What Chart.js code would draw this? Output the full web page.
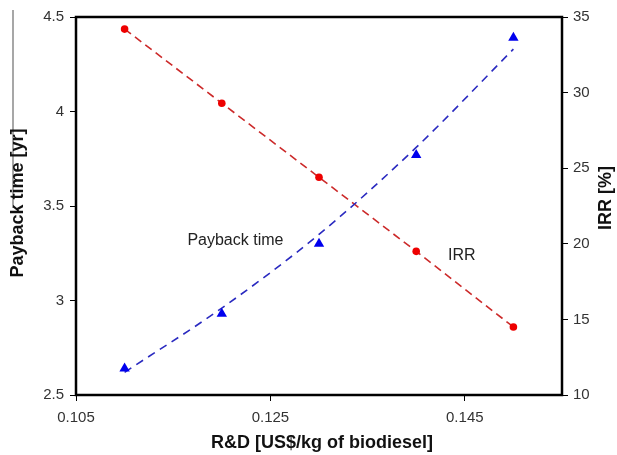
<!DOCTYPE html>
<html>
<head>
<meta charset="utf-8">
<script src="https://cdn.jsdelivr.net/npm/chart.js@4/dist/chart.umd.min.js"></script>
<style>
  html, body { margin: 0; padding: 0; background: #fff; }
  #wrap { width: 617px; height: 455px; }
</style>
</head>
<body>
<div id="wrap"><canvas id="c" width="617" height="455"></canvas></div>
<script>
// R&D cost per kg of biodiesel
const rdCost = [0.11, 0.12, 0.13, 0.14, 0.15];
// Payback time [yr] at each cost (markers) and its fitted trend
const paybackTime = [2.64, 2.93, 3.30, 3.77, 4.39];
const paybackTrend = [2.62, 2.96, 3.35, 3.81, 4.33];
// Internal rate of return [%]
const irr = [34.2, 29.3, 24.4, 19.5, 14.5];

// Axis ticks
const xTicks = [0.105, 0.125, 0.145];
const xTickLabels = ['0.105', '0.125', '0.145'];
const leftTicks = [2.5, 3, 3.5, 4, 4.5];
const leftTickLabels = ['2.5', '3', '3.5', '4', '4.5'];
const rightTicks = [10, 15, 20, 25, 30, 35];
const rightTickLabels = ['10', '15', '20', '25', '30', '35'];

// Titles and in-plot labels
const xTitle = 'R&D [US$/kg of biodiesel]';
const leftTitle = 'Payback time [yr]';
const rightTitle = 'IRR [%]';
const seriesLabels = [
  { text: 'Payback time', x: 0.1214, y: 3.315 },
  { text: 'IRR', x: 0.1447, y: 3.24 }
];

const pts = (xs, ys) => xs.map((x, i) => ({ x, y: ys[i] }));

const tickFont = { family: '"Liberation Sans", Arial, sans-serif', size: 15 };
const tickColor = '#333';

function fixedTicks(values) {
  return function (axis) { axis.ticks = values.map(v => ({ value: v })); };
}
function labelFrom(values, labels) {
  return function (v) { const i = values.indexOf(v); return i >= 0 ? labels[i] : ''; };
}

const decorations = {
  id: 'decorations',
  afterDraw(chart) {
    const { ctx, chartArea: a, scales } = chart;
    ctx.save();
    // frame around the plot
    ctx.strokeStyle = '#000';
    ctx.lineWidth = 2.5;
    ctx.strokeRect(a.left, a.top, a.right - a.left, a.bottom - a.top);

    // thin rule at the far left
    ctx.strokeStyle = '#8a8a8a';
    ctx.lineWidth = 1.5;
    ctx.beginPath();
    ctx.moveTo(13, 10);
    ctx.lineTo(13, 208);
    ctx.stroke();

    // axis titles
    ctx.fillStyle = '#111';
    ctx.font = 'bold 18px "Liberation Sans", Arial, sans-serif';
    ctx.textAlign = 'center';
    ctx.textBaseline = 'middle';
    ctx.fillText(xTitle, 322, 443);

    ctx.save();
    ctx.translate(18, 203);
    ctx.rotate(-Math.PI / 2);
    ctx.fillText(leftTitle, 0, 0);
    ctx.restore();

    ctx.save();
    ctx.translate(606, 198);
    ctx.rotate(-Math.PI / 2);
    ctx.fillText(rightTitle, 0, 0);
    ctx.restore();

    // series labels inside the plot
    ctx.fillStyle = '#222';
    ctx.font = '16px "Liberation Sans", Arial, sans-serif';
    seriesLabels.forEach(l => {
      ctx.fillText(l.text, scales.x.getPixelForValue(l.x), scales.y.getPixelForValue(l.y));
    });
    ctx.restore();
  }
};

new Chart(document.getElementById('c'), {
  type: 'scatter',
  data: {
    datasets: [
      {
        label: 'Payback time',
        data: pts(rdCost, paybackTime),
        yAxisID: 'y',
        showLine: false,
        pointStyle: 'triangle',
        pointRadius: 6,
        pointBackgroundColor: '#0000ee',
        pointBorderColor: '#0000ee',
        pointBorderWidth: 0
      },
      {
        label: 'Payback trend',
        data: pts(rdCost, paybackTrend),
        yAxisID: 'y',
        showLine: true,
        cubicInterpolationMode: 'monotone',
        borderColor: '#2a2ac0',
        borderWidth: 1.6,
        borderDash: [8, 6],
        pointRadius: 0
      },
      {
        label: 'IRR',
        data: pts(rdCost, irr),
        yAxisID: 'y2',
        showLine: true,
        borderColor: '#cc2a2a',
        borderWidth: 1.6,
        borderDash: [8, 5],
        pointStyle: 'circle',
        pointRadius: 3.8,
        pointBackgroundColor: '#ee0000',
        pointBorderColor: '#ee0000',
        pointBorderWidth: 0
      }
    ]
  },
  options: {
    responsive: false,
    animation: false,
    layout: { padding: { top: 17, left: 0, right: 0, bottom: 0 } },
    plugins: { legend: { display: false }, tooltip: { enabled: false } },
    scales: {
      x: {
        type: 'linear',
        min: 0.105,
        max: 0.155,
        afterBuildTicks: fixedTicks(xTicks),
        afterFit(s) { s.height = 60; },
        grid: { drawOnChartArea: false, color: '#000', tickLength: 6, lineWidth: 1 },
        border: { display: false },
        ticks: { font: tickFont, color: tickColor, padding: 8, maxRotation: 0,
                 callback: labelFrom(xTicks, xTickLabels) }
      },
      y: {
        type: 'linear',
        position: 'left',
        min: 2.5,
        max: 4.5,
        afterBuildTicks: fixedTicks(leftTicks),
        afterFit(s) { s.width = 76; },
        grid: { drawOnChartArea: false, color: '#000', tickLength: 6, lineWidth: 1 },
        border: { display: false },
        ticks: { font: tickFont, color: tickColor, padding: 6,
                 callback: labelFrom(leftTicks, leftTickLabels) }
      },
      y2: {
        type: 'linear',
        position: 'right',
        min: 10,
        max: 35,
        afterBuildTicks: fixedTicks(rightTicks),
        afterFit(s) { s.width = 55; },
        grid: { drawOnChartArea: false, color: '#000', tickLength: 6, lineWidth: 1 },
        border: { display: false },
        ticks: { font: tickFont, color: tickColor, padding: 5,
                 callback: labelFrom(rightTicks, rightTickLabels) }
      }
    }
  },
  plugins: [decorations]
});
</script>
</body>
</html>
